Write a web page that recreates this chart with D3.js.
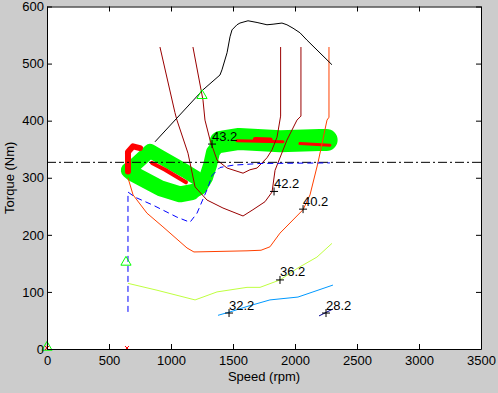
<!DOCTYPE html>
<html><head><meta charset="utf-8">
<script src="https://cdn.jsdelivr.net/npm/d3@7"></script>
<style>body{margin:0;background:#cccccc;} svg{display:block;} text{font-family:Arial,"Liberation Sans",sans-serif;}</style>
</head><body><svg id="c" width="498" height="393"></svg>
<script>
// ---- data (speed rpm, torque Nm) ----
const speedTicks = [0,500,1000,1500,2000,2500,3000,3500];
const torqueTicks = [0,100,200,300,400,500,600];
const refTorque = 327;
const maxTorqueCurve = [[871,363],[1258,454],[1395,480],[1411,489],[1452,519],[1476,547],[1492,559],[1532,568],[1556,571],[1621,575],[1694,572],[1774,568],[1823,569],[1895,571],[1935,568],[1984,562],[2040,554],[2097,541],[2298,498]];
const contour43 = [[1177,529],[1258,436],[1274,401],[1315,366],[1371,331],[1452,317],[1581,308],[1637,314],[1694,317],[1774,335],[1815,349],[1855,371],[1884,408],[1884,529]];
const contour42 = [[911,529],[1032,414],[1048,401],[1137,343],[1194,284],[1290,261],[1419,247],[1581,233],[1661,244],[1758,258],[1815,275],[1839,313],[1935,366],[2016,401],[2048,408],[2048,529]];
const contour40 = [[653,300],[694,270],[806,238],[935,214],[1129,177],[1185,170],[1613,172],[1726,173],[1798,179],[1879,203],[2065,244],[2121,270],[2185,326],[2258,401],[2274,406],[2274,529]];
const contour36 = [[653,115],[887,103],[1194,86],[1258,91],[1371,100],[1613,108],[1718,108],[1879,121],[2024,142],[2177,161],[2298,185]];
const contour32 = [[1379,59],[1476,65],[1621,75],[1798,86],[2024,91],[2145,100],[2306,112]];
const contour28 = [[2194,58],[2250,64],[2306,70]];
const blueDashed = [[653,65],[653,275],[710,266],[855,252],[1048,231],[1153,222],[1210,238],[1298,283],[1331,304],[1395,318],[1500,322],[1718,325],[2282,326]];
const greenLower = [[1169,275],[1073,271],[911,282],[694,307],[660,313]];
const greenUpper = [[660,313],[831,347],[911,337],[1113,312],[1202,300]];
const greenRising = [[1169,275],[1234,282],[1282,300],[1315,322],[1339,345],[1395,361],[1450,364]];
const greenBand = [[1400,363],[1550,368],[1880,364],[2200,366],[2255,366]];
const redLeft = [[653,311],[653,345],[694,355],[750,352]];
const redInner = [[847,326],[952,314],[1121,292]];
const redRight1 = [[1532,365],[1903,363]];
const redRight2 = [[1680,367],[1800,366]];
const redRight3 = [[2040,360],[2282,357]];
const contourLabels = ["43.2","42.2","40.2","36.2","32.2","28.2"];
const labelSpeed = [1331,1831,2065,1879,1468,2250];
const labelTorque = [359,276,245,121,63,63];
const triangleMarks = [[0,3],[637,152],[1250,444]];
const crossMarks = [[0,0],[645,0]];

// ---- drawing ----
const svg = d3.select("#c");
const x = d3.scaleLinear().domain([0,3500]).range([47,481]);
const y = d3.scaleLinear().domain([0,600]).range([349,6.5]);
const line = d3.line().x(d=>x(d[0])).y(d=>y(d[1]));

svg.append("rect").attr("width",498).attr("height",393).attr("fill","#cccccc");
svg.append("rect").attr("x",x(0)).attr("y",y(600)).attr("width",x(3500)-x(0)).attr("height",y(0)-y(600)).attr("fill","#ffffff");
svg.append("clipPath").attr("id","clip").append("rect").attr("x",x(0)).attr("y",y(600)).attr("width",x(3500)-x(0)).attr("height",y(0)-y(600));
const g = svg.append("g").attr("clip-path","url(#clip)");

function path(data, color, w, dash, cap){
  const p = g.append("path").attr("d",line(data)).attr("fill","none").attr("stroke",color).attr("stroke-width",w)
    .attr("stroke-linejoin","round").attr("stroke-linecap",cap||"butt");
  if(dash) p.attr("stroke-dasharray",dash);
  return p;
}
// green operating points
path(greenLower,"#00ff00",16,null,"round");
path(greenUpper,"#00ff00",14,null,"round");
path(greenRising,"#00ff00",14,null,"round");
path(greenBand,"#00ff00",22,null,"round");
// red points
path(redLeft,"#ff0000",6,null,"round");
path(redInner,"#ff0000",4,null,"round");
path(redRight1,"#ff0000",3,null,"round");
path(redRight2,"#ff0000",5,null,"round");
path(redRight3,"#ff0000",3,null,"round");
// contours
path(contour43,"#990000",1);
path(contour42,"#990000",1);
path(contour40,"#ff4000",1);
path(contour36,"#bfff40",1);
path(contour32,"#0099ff",1);
path(contour28,"#000090",1);
// reference lines
path([[0,refTorque],[3500,refTorque]],"#000000",1,"9,3,2,3");
path(blueDashed,"#0000ff",1,"6,4");
path(maxTorqueCurve,"#000000",1);

// label crosses and text
labelSpeed.forEach((s,i)=>{
  const cx = x(s), cy = y(labelTorque[i]);
  g.append("path").attr("d",`M${cx-4},${cy}H${cx+4}M${cx},${cy-4}V${cy+4}`).attr("stroke","#000").attr("stroke-width",1).attr("fill","none");
  svg.append("text").attr("x",cx).attr("y",cy-3.5).attr("font-size",13).attr("fill","#000").text(contourLabels[i]);
});
// markers
triangleMarks.forEach(d=>{
  svg.append("path").attr("d",d3.symbol(d3.symbolTriangle,45)()).attr("transform",`translate(${x(d[0])},${y(d[1])})`)
    .attr("fill","none").attr("stroke","#00ff00").attr("stroke-width",1);
});
crossMarks.forEach(d=>{
  const cx=x(d[0]), cy=y(d[1])-1;
  svg.append("path").attr("d",`M${cx-2},${cy-2}L${cx+2},${cy+2}M${cx-2},${cy+2}L${cx+2},${cy-2}`).attr("stroke","#ff0000").attr("stroke-width",1);
});

// axes (MATLAB style box with inward ticks)
function styleAxis(sel){ sel.selectAll("path").attr("stroke","#000"); sel.selectAll("line").attr("stroke","#000");
  sel.selectAll("text").attr("font-size",13).attr("fill","#000").style("font-family","Arial, 'Liberation Sans', sans-serif"); }
const ax = svg.append("g").attr("transform",`translate(0,${y(0)})`).call(d3.axisBottom(x).tickValues(speedTicks).tickFormat(d3.format("d")).tickSizeInner(-5).tickSizeOuter(0).tickPadding(7));
styleAxis(ax);
const axT = svg.append("g").attr("transform",`translate(0,${y(600)})`).call(d3.axisTop(x).tickValues(speedTicks).tickFormat("").tickSizeInner(-5).tickSizeOuter(0));
styleAxis(axT);
const ay = svg.append("g").attr("transform",`translate(${x(0)},0)`).call(d3.axisLeft(y).tickValues(torqueTicks).tickFormat(d3.format("d")).tickSizeInner(-5).tickSizeOuter(0).tickPadding(3));
styleAxis(ay);
const ayR = svg.append("g").attr("transform",`translate(${x(3500)},0)`).call(d3.axisRight(y).tickValues(torqueTicks).tickFormat("").tickSizeInner(-5).tickSizeOuter(0));
styleAxis(ayR);

svg.append("text").attr("x",(x(0)+x(3500))/2).attr("y",381).attr("text-anchor","middle").attr("font-size",13).text("Speed (rpm)");
svg.append("text").attr("transform",`translate(14,${(y(0)+y(600))/2}) rotate(-90)`).attr("text-anchor","middle").attr("font-size",13).text("Torque (Nm)");
</script></body></html>
